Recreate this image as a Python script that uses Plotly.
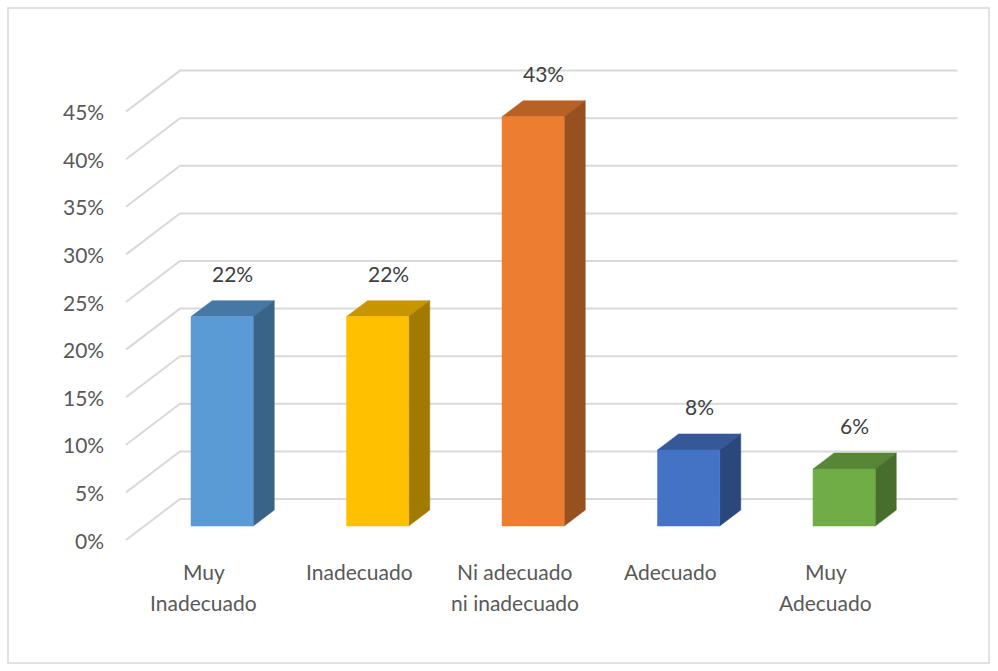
import plotly.graph_objects as go

# ---- data ----
categories = ["Muy<br>Inadecuado", "Inadecuado", "Ni adecuado<br>ni inadecuado", "Adecuado", "Muy<br>Adecuado"]
values = [22, 22, 43, 8, 6]            # percent
labels = ["22%", "22%", "43%", "8%", "6%"]
y_ticks = [0, 5, 10, 15, 20, 25, 30, 35, 40, 45]
colors = ["#5B9BD5", "#FFC000", "#ED7D31", "#4472C4", "#70AD47"]

# ---- 3-D (oblique) projection parameters, in axis units ----
W, H = 998, 671
X_PX = 155.5            # pixels per category
Y_PX = 9.52             # pixels per percent
DX = 54 / X_PX          # full floor depth, x component
DY = 41 / Y_PX          # full floor depth, y component
BAR_W = 0.40            # bar width in category units
D_FRONT, D_BACK = 0.34, 0.73   # bar depth span within the floor

x0 = -0.5 - 126 / X_PX
x1 = x0 + W / X_PX
y1 = 540 / Y_PX
y0 = y1 - H / Y_PX

GRID = "#D9D9D9"
FONT = "Lato, Carlito, Calibri, sans-serif"


def shade(hex_color, f):
    h = hex_color.lstrip("#")
    r, g, b = (int(h[i:i + 2], 16) for i in (0, 2, 4))
    return "#{:02X}{:02X}{:02X}".format(int(r * f), int(g * f), int(b * f))


def proj(x, y, d):
    return x + d * DX, y + d * DY


fig = go.Figure()

# gridlines: left wall diagonal + back wall horizontal
n = len(categories)
for v in y_ticks:
    pts = [proj(-0.5, v, 0), proj(-0.5, v, 1), proj(n - 0.5, v, 1)]
    fig.add_trace(go.Scatter(
        x=[p[0] for p in pts], y=[p[1] for p in pts], mode="lines",
        line=dict(color=GRID, width=2), hoverinfo="skip", showlegend=False))


def poly(pts, color):
    xs = [p[0] for p in pts] + [pts[0][0]]
    ys = [p[1] for p in pts] + [pts[0][1]]
    fig.add_trace(go.Scatter(
        x=xs, y=ys, mode="lines", fill="toself", fillcolor=color,
        line=dict(color=color, width=0.5), hoverinfo="skip", showlegend=False))


# bars: top, right side, front
for i, (v, c) in enumerate(zip(values, colors)):
    l, r = i - BAR_W / 2, i + BAR_W / 2
    top = [proj(l, v, D_FRONT), proj(r, v, D_FRONT), proj(r, v, D_BACK), proj(l, v, D_BACK)]
    side = [proj(r, 0, D_FRONT), proj(r, 0, D_BACK), proj(r, v, D_BACK), proj(r, v, D_FRONT)]
    front = [proj(l, 0, D_FRONT), proj(r, 0, D_FRONT), proj(r, v, D_FRONT), proj(l, v, D_FRONT)]
    poly(top, shade(c, 0.78))
    poly(side, shade(c, 0.64))
    poly(front, c)

annotations = []

# value labels above each bar
for i, (v, t) in enumerate(zip(values, labels)):
    xm, ym = proj(i, v, (D_FRONT + D_BACK) / 2)
    _, yb = proj(i, v, D_BACK)
    annotations.append(dict(
        x=xm, y=yb, text=t, showarrow=False, xanchor="center", yanchor="bottom",
        yshift=13, font=dict(family=FONT, size=21, color="#404040")))

# y tick labels on the front plane
for v in y_ticks:
    annotations.append(dict(
        x=-0.5, y=v, text=f"{v}%", showarrow=False, xanchor="right", yanchor="middle",
        xshift=-20, font=dict(family=FONT, size=21, color="#595959")))

# category labels on the front plane, one line per annotation
for i, cat in enumerate(categories):
    for j, line in enumerate(cat.split("<br>")):
        annotations.append(dict(
            x=i, y=0, text=line, showarrow=False, xanchor="center", yanchor="top",
            yshift=-17 - 31 * j, font=dict(family=FONT, size=21, color="#595959")))

fig.update_layout(
    width=W, height=H,
    margin=dict(l=0, r=0, t=0, b=0),
    paper_bgcolor="white", plot_bgcolor="white",
    xaxis=dict(range=[x0, x1], visible=False, fixedrange=True),
    yaxis=dict(range=[y0, y1], visible=False, fixedrange=True),
    annotations=annotations,
    shapes=[dict(type="rect", xref="paper", yref="paper",
                 x0=8 / W, x1=989 / W, y0=1 - 663 / H, y1=1 - 8 / H,
                 line=dict(color=GRID, width=1.5), fillcolor="rgba(0,0,0,0)", layer="below")],
    showlegend=False,
)

fig.write_html("out.html")
